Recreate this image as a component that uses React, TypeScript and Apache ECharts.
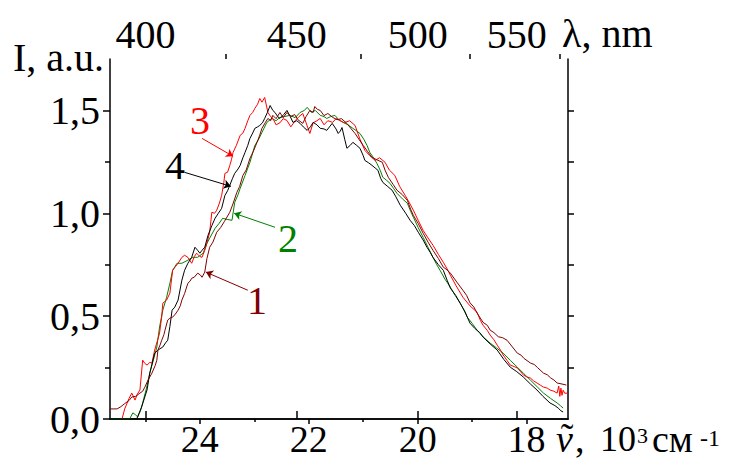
import React, { useEffect, useRef } from "react";
import * as echarts from "echarts";

// ---- axis ranges & ticks (wavenumber in 10^3 cm^-1) ----
const xMin = 17.24;
const xMax = 25.65;
const yMin = 0;
const yMax = 1.75;
const bottomMajorTicks = [18, 20, 22, 24];
const bottomMinorTicks = [19, 21, 23, 25];
const topMajorNm = [400, 450, 500, 550];
const topMinorNm = [425, 475, 525, 575];
const leftMajorTicks = [0, 0.5, 1.0, 1.5];
const leftMinorTicks = [0.25, 0.75, 1.25];
const rightTicks = [0.25, 0.5, 0.75, 1.0, 1.25, 1.5];

// ---- series (wavenumber, intensity) ----
const curve1 = [
  [25.65, 0.049], [25.52, 0.049], [25.45, 0.06], [25.38, 0.075], [25.3, 0.09], [25.25, 0.107], [25.18, 0.11],
  [25.1, 0.126], [25.05, 0.135], [25.01, 0.155], [24.95, 0.19], [24.88, 0.223], [24.82, 0.26], [24.79, 0.286],
  [24.77, 0.335], [24.73, 0.36], [24.7, 0.383], [24.66, 0.41], [24.64, 0.432], [24.59, 0.481], [24.55, 0.49],
  [24.5, 0.495], [24.45, 0.51], [24.4, 0.529], [24.36, 0.55], [24.33, 0.578], [24.28, 0.61], [24.22, 0.66],
  [24.18, 0.67], [24.15, 0.684], [24.1, 0.69], [24.04, 0.709], [23.99, 0.7], [23.96, 0.689], [23.91, 0.714],
  [23.87, 0.78], [23.82, 0.835], [23.76, 0.86], [23.69, 0.908], [23.62, 0.93], [23.55, 0.96], [23.45, 1.005],
  [23.4, 1.04], [23.32, 1.102], [23.27, 1.13], [23.21, 1.184], [23.15, 1.21], [23.08, 1.267], [23.02, 1.3],
  [22.95, 1.345], [22.9, 1.38], [22.86, 1.413], [22.8, 1.44], [22.75, 1.461], [22.7, 1.45], [22.66, 1.476],
  [22.6, 1.46], [22.53, 1.49], [22.47, 1.465], [22.4, 1.49], [22.33, 1.47], [22.26, 1.48], [22.2, 1.455],
  [22.11, 1.437], [22.05, 1.47], [21.98, 1.5], [21.92, 1.49], [21.89, 1.519], [21.84, 1.505], [21.79, 1.5],
  [21.72, 1.475], [21.65, 1.485], [21.56, 1.466], [21.48, 1.455], [21.4, 1.46], [21.3, 1.437], [21.22, 1.41],
  [21.15, 1.388], [21.08, 1.36], [21.0, 1.33], [20.92, 1.3], [20.84, 1.272], [20.75, 1.26], [20.65, 1.248],
  [20.6, 1.21], [20.54, 1.175], [20.45, 1.14], [20.38, 1.112], [20.28, 1.09], [20.19, 1.063], [20.13, 1.02],
  [20.08, 0.99], [19.99, 0.95], [19.9, 0.903], [19.81, 0.86], [19.72, 0.82], [19.62, 0.78], [19.53, 0.738],
  [19.46, 0.725], [19.4, 0.709], [19.28, 0.665], [19.17, 0.626], [19.1, 0.6], [19.04, 0.565], [18.97, 0.545],
  [18.91, 0.515], [18.8, 0.47], [18.72, 0.455], [18.67, 0.432], [18.6, 0.42], [18.52, 0.4], [18.44, 0.395],
  [18.36, 0.383], [18.26, 0.35], [18.17, 0.32], [18.1, 0.31], [18.05, 0.295], [17.93, 0.272], [17.86, 0.265],
  [17.8, 0.25], [17.69, 0.223], [17.62, 0.215], [17.56, 0.2], [17.5, 0.19], [17.44, 0.175], [17.35, 0.17],
  [17.27, 0.165],
];

const curve2 = [
  [25.65, 0], [25.29, 0], [25.23, 0.03], [25.18, 0.02], [25.14, 0.01], [25.09, 0.04], [25.05, 0.078],
  [24.98, 0.15], [24.92, 0.223], [24.85, 0.29], [24.79, 0.35], [24.74, 0.447], [24.68, 0.529], [24.61, 0.592],
  [24.55, 0.66], [24.5, 0.723], [24.42, 0.757], [24.33, 0.757], [24.22, 0.772], [24.13, 0.786], [24.04, 0.786],
  [23.94, 0.806], [23.87, 0.854], [23.82, 0.879], [23.72, 0.927], [23.65, 0.95], [23.58, 0.976], [23.5, 0.97],
  [23.41, 0.966], [23.36, 1.053], [23.3, 1.09], [23.26, 1.121], [23.17, 1.184], [23.08, 1.248], [22.99, 1.33],
  [22.92, 1.36], [22.86, 1.393], [22.77, 1.442], [22.68, 1.461], [22.6, 1.45], [22.53, 1.466], [22.45, 1.47],
  [22.35, 1.476], [22.25, 1.465], [22.16, 1.49], [22.08, 1.5], [22.03, 1.515], [21.95, 1.49], [21.88, 1.5],
  [21.79, 1.476], [21.72, 1.47], [21.67, 1.461], [21.6, 1.47], [21.52, 1.476], [21.45, 1.455], [21.37, 1.442],
  [21.28, 1.43], [21.19, 1.413], [21.12, 1.4], [21.06, 1.388], [20.99, 1.36], [20.93, 1.33], [20.88, 1.296],
  [20.81, 1.27], [20.75, 1.243], [20.69, 1.21], [20.64, 1.175], [20.57, 1.16], [20.51, 1.146], [20.44, 1.12],
  [20.38, 1.097], [20.28, 1.07], [20.19, 1.049], [20.13, 1.01], [20.08, 0.981], [19.99, 0.93], [19.9, 0.883],
  [19.81, 0.835], [19.72, 0.786], [19.65, 0.75], [19.59, 0.723], [19.5, 0.68], [19.4, 0.641], [19.31, 0.6],
  [19.22, 0.563], [19.15, 0.53], [19.09, 0.495], [19.0, 0.465], [18.91, 0.432], [18.8, 0.4], [18.67, 0.369],
  [18.55, 0.345], [18.43, 0.32], [18.3, 0.285], [18.17, 0.252], [18.05, 0.22], [17.93, 0.189], [17.8, 0.155],
  [17.69, 0.126], [17.56, 0.1], [17.44, 0.078], [17.38, 0.065], [17.33, 0.053],
];

const curve3 = [
  [25.43, 0], [25.38, 0.049], [25.3, 0.1], [25.25, 0.126], [25.19, 0.092], [25.15, 0.12], [25.1, 0.141],
  [25.05, 0.286], [25.01, 0.27], [24.97, 0.262], [24.92, 0.275], [24.88, 0.272], [24.83, 0.335], [24.78, 0.38],
  [24.74, 0.417], [24.7, 0.5], [24.68, 0.563], [24.61, 0.578], [24.55, 0.612], [24.5, 0.723], [24.45, 0.74],
  [24.4, 0.757], [24.33, 0.786], [24.28, 0.796], [24.22, 0.786], [24.15, 0.757], [24.1, 0.79], [24.06, 0.806],
  [24.0, 0.79], [23.96, 0.786], [23.91, 0.82], [23.87, 0.854], [23.82, 0.908], [23.78, 1.005], [23.73, 1.0],
  [23.69, 1.015], [23.64, 1.05], [23.6, 1.087], [23.56, 1.15], [23.54, 1.194], [23.49, 1.2], [23.45, 1.233],
  [23.42, 1.26], [23.39, 1.296], [23.33, 1.33], [23.26, 1.379], [23.21, 1.39], [23.17, 1.413], [23.12, 1.45],
  [23.08, 1.476], [23.03, 1.49], [22.99, 1.51], [22.94, 1.53], [22.9, 1.558], [22.86, 1.54], [22.81, 1.563],
  [22.75, 1.49], [22.7, 1.47], [22.66, 1.461], [22.6, 1.43], [22.53, 1.44], [22.47, 1.46], [22.4, 1.451],
  [22.33, 1.42], [22.25, 1.45], [22.18, 1.47], [22.11, 1.485], [22.05, 1.44], [21.98, 1.388], [21.92, 1.44],
  [21.85, 1.45], [21.79, 1.461], [21.72, 1.43], [21.65, 1.45], [21.56, 1.442], [21.5, 1.46], [21.43, 1.451],
  [21.35, 1.44], [21.25, 1.45], [21.15, 1.427], [21.06, 1.36], [20.97, 1.306], [20.88, 1.28], [20.78, 1.257],
  [20.7, 1.27], [20.6, 1.248], [20.52, 1.21], [20.42, 1.184], [20.33, 1.13], [20.23, 1.087], [20.15, 1.05],
  [20.08, 1.015], [19.99, 0.965], [19.9, 0.917], [19.81, 0.88], [19.72, 0.845], [19.62, 0.8], [19.53, 0.762],
  [19.46, 0.73], [19.4, 0.699], [19.3, 0.65], [19.17, 0.592], [19.04, 0.55], [18.91, 0.519], [18.85, 0.48],
  [18.8, 0.456], [18.72, 0.43], [18.67, 0.408], [18.6, 0.385], [18.54, 0.359], [18.48, 0.335], [18.43, 0.311],
  [18.36, 0.285], [18.3, 0.262], [18.23, 0.255], [18.17, 0.248], [18.11, 0.23], [18.06, 0.214], [18.0, 0.205],
  [17.93, 0.199], [17.87, 0.185], [17.81, 0.175], [17.75, 0.165], [17.69, 0.155], [17.62, 0.15], [17.57, 0.141],
  [17.5, 0.135], [17.44, 0.126], [17.41, 0.16], [17.39, 0.11], [17.37, 0.15], [17.35, 0.115], [17.33, 0.14],
  [17.3, 0.125], [17.25, 0.126],
];

const curve4 = [
  [25.65, 0], [25.16, 0], [25.07, 0.058], [24.97, 0.141], [24.92, 0.223], [24.83, 0.32], [24.77, 0.335],
  [24.68, 0.35], [24.63, 0.37], [24.59, 0.383], [24.55, 0.45], [24.51, 0.529], [24.46, 0.544], [24.4, 0.578],
  [24.33, 0.675], [24.28, 0.723], [24.22, 0.757], [24.15, 0.786], [24.09, 0.835], [24.04, 0.82], [24.0, 0.806],
  [23.96, 0.82], [23.91, 0.835], [23.85, 0.893], [23.78, 0.94], [23.72, 0.976], [23.66, 1.0], [23.6, 1.024],
  [23.54, 1.087], [23.49, 1.11], [23.45, 1.136], [23.4, 1.17], [23.36, 1.194], [23.3, 1.215], [23.26, 1.233],
  [23.21, 1.27], [23.17, 1.296], [23.12, 1.33], [23.08, 1.364], [23.03, 1.39], [22.99, 1.413], [22.94, 1.42],
  [22.9, 1.427], [22.85, 1.44], [22.81, 1.461], [22.76, 1.49], [22.71, 1.524], [22.66, 1.5], [22.62, 1.49],
  [22.57, 1.47], [22.53, 1.461], [22.46, 1.48], [22.4, 1.5], [22.34, 1.47], [22.29, 1.442], [22.22, 1.45],
  [22.16, 1.437], [22.1, 1.42], [22.03, 1.403], [21.97, 1.42], [21.92, 1.442], [21.85, 1.43], [21.79, 1.413],
  [21.72, 1.41], [21.67, 1.403], [21.62, 1.42], [21.57, 1.437], [21.5, 1.41], [21.46, 1.388], [21.42, 1.4],
  [21.39, 1.417], [21.34, 1.36], [21.3, 1.316], [21.24, 1.33], [21.19, 1.345], [21.12, 1.33], [21.06, 1.316],
  [21.0, 1.28], [20.97, 1.257], [20.9, 1.245], [20.84, 1.233], [20.78, 1.22], [20.73, 1.209], [20.68, 1.17],
  [20.64, 1.15], [20.55, 1.13], [20.47, 1.112], [20.4, 1.08], [20.32, 1.039], [20.22, 1.0], [20.14, 0.966],
  [20.06, 0.94], [19.99, 0.908], [19.9, 0.87], [19.83, 0.835], [19.77, 0.81], [19.72, 0.786], [19.62, 0.75],
  [19.53, 0.723], [19.46, 0.675], [19.4, 0.636], [19.3, 0.6], [19.22, 0.563], [19.13, 0.52], [19.04, 0.466],
  [18.95, 0.44], [18.86, 0.42], [18.8, 0.398], [18.67, 0.365], [18.54, 0.335], [18.42, 0.29], [18.3, 0.252],
  [18.18, 0.23], [18.06, 0.204], [17.93, 0.17], [17.81, 0.141], [17.7, 0.11], [17.57, 0.078], [17.48, 0.065],
  [17.42, 0.053], [17.37, 0.04], [17.33, 0.034],
];

const seriesNames = ["1", "2", "3", "4"];
const seriesColors = ["#800000", "#008000", "#ff0000", "#000000"];
const seriesData = [curve1, curve2, curve3, curve4];

// arrows from label to curve (data coords)
const arrows = [
  [[23.12, 0.626], [23.89, 0.714]],
  [[22.62, 0.932], [23.37, 1.0]],
  [[23.96, 1.364], [23.39, 1.277]],
  [[24.28, 1.199], [23.43, 1.131]],
];

const FONT = "'Liberation Serif', 'Times New Roman', serif";

export default function App() {
  const ref = useRef<HTMLDivElement>(null);
  useEffect(() => {
    if (!ref.current) return;
    const chart = echarts.init(ref.current, null, { renderer: "svg" });
    const axisLine = { show: true, lineStyle: { color: "#000", width: 1.5 } };
    const baseX = { type: "value", min: xMin, max: xMax, inverse: true, splitLine: { show: false } };
    const baseY = { type: "value", min: yMin, max: yMax, splitLine: { show: false } };
    const toNu = (nm: number) => 1e4 / nm;

    const series: any[] = seriesData.map((d, i) => ({
      name: seriesNames[i],
      type: "line",
      data: d,
      showSymbol: false,
      symbol: "none",
      lineStyle: { color: seriesColors[i], width: 1 },
      itemStyle: { color: seriesColors[i] },
      z: i === 0 ? 3 : 2,
      markLine: {
        silent: true,
        symbol: ["none", "arrow"],
        symbolSize: 7,
        label: { show: false },
        lineStyle: { color: seriesColors[i], width: 1, type: "solid" },
        data: [[{ coord: arrows[i][0] }, { coord: arrows[i][1] }]],
      },
    }));

    const txt = (text: string, x: number, y: number, size: number, color = "#000", align = "left", vAlign = "middle", italic = false) => ({
      type: "text",
      x,
      y,
      style: {
        text,
        font: `${italic ? "italic " : ""}${size}px ${FONT}`,
        fill: color,
        align,
        verticalAlign: vAlign,
      },
    });

    chart.setOption({
      animation: false,
      backgroundColor: "#fff",
      grid: { left: 110, right: 166, top: 59, bottom: 42 },
      xAxis: [
        {
          ...baseX,
          position: "bottom",
          axisLine,
          axisTick: { show: true, inside: false, length: 5, customValues: bottomMajorTicks, lineStyle: { color: "#000", width: 1.5 } },
          axisLabel: { show: true, customValues: bottomMajorTicks, margin: 1, color: "#000", fontFamily: FONT, fontSize: 38, formatter: (v: number) => String(Math.round(v)) },
        },
        {
          ...baseX,
          position: "bottom",
          axisLine: { show: false },
          axisTick: { show: true, length: 3, customValues: bottomMinorTicks, lineStyle: { color: "#000", width: 1.5 } },
          axisLabel: { show: false },
        },
        {
          ...baseX,
          position: "top",
          axisLine,
          axisTick: { show: true, length: 8, customValues: topMajorNm.map(toNu), lineStyle: { color: "#000", width: 1.5 } },
          axisLabel: { show: true, customValues: topMajorNm.map(toNu), margin: 5, color: "#000", fontFamily: FONT, fontSize: 40, formatter: (v: number) => String(Math.round(1e4 / v)) },
        },
        {
          ...baseX,
          position: "top",
          axisLine: { show: false },
          axisTick: { show: true, length: 5, customValues: topMinorNm.map(toNu), lineStyle: { color: "#000", width: 1.5 } },
          axisLabel: { show: false },
        },
      ],
      yAxis: [
        {
          ...baseY,
          position: "left",
          axisLine,
          axisTick: { show: true, length: 7, customValues: leftMajorTicks, lineStyle: { color: "#000", width: 1.5 } },
          axisLabel: { show: true, customValues: leftMajorTicks, margin: 10, color: "#000", fontFamily: FONT, fontSize: 40, formatter: (v: number) => v.toFixed(1).replace(".", ",") },
        },
        {
          ...baseY,
          position: "left",
          axisLine: { show: false },
          axisTick: { show: true, length: 5, customValues: leftMinorTicks, lineStyle: { color: "#000", width: 1.5 } },
          axisLabel: { show: false },
        },
        {
          ...baseY,
          position: "right",
          axisLine,
          axisTick: { show: true, length: 6, customValues: rightTicks, lineStyle: { color: "#000", width: 1.5 } },
          axisLabel: { show: false },
        },
      ],
      series,
      graphic: [
        txt("I, a.u.", 13, 57, 40),
        txt("λ, nm", 562, 33, 40),
        // x-axis title: ν̃, 10³ см⁻¹
        txt("ν", 556, 439, 38, "#000", "left", "middle", true),
        txt("˜", 567, 437, 38, "#000", "center", "middle"),
        txt(",", 575, 439, 38),
        txt("10", 600, 439, 36),
        txt("3", 637, 424, 22, "#000", "left", "top"),
        txt("см", 652, 439, 38),
        txt("-1", 700, 426, 24, "#000", "left", "top"),
        // curve numbers
        txt("3", 200, 120, 40, "#ff0000", "center"),
        txt("4", 175, 165, 40, "#000000", "center"),
        txt("2", 288, 238, 40, "#008000", "center"),
        txt("1", 257, 300, 40, "#800000", "center"),
      ],
    });
    return () => chart.dispose();
  }, []);
  return <div ref={ref} style={{ width: 734, height: 461, position: "absolute", left: 0, top: 0 }} />;
}
